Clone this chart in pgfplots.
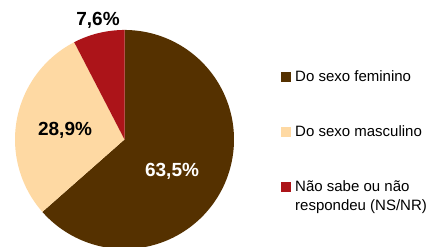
\documentclass[border=0pt]{standalone}
\usepackage{pgfplots}
\usepackage{pgfplotstable}
\pgfplotsset{compat=1.18}
\usepackage{fontspec}
\setmainfont{Liberation Sans}
\definecolor{cfem}{HTML}{553100}
\definecolor{cmasc}{HTML}{FED9A3}
\definecolor{cns}{HTML}{AC1419}

\pgfplotstableread{
share
63.5
28.9
7.6
}\piedata

\begin{document}%
\begin{tikzpicture}
\pgfplotstablegetelem{0}{share}\of\piedata \let\vA\pgfplotsretval
\pgfplotstablegetelem{1}{share}\of\piedata \let\vB\pgfplotsretval
\pgfplotstablegetelem{2}{share}\of\piedata \let\vC\pgfplotsretval
\pgfmathsetmacro\aA{90-3.6*\vA}
\pgfmathsetmacro\aB{\aA-3.6*\vB}
\pgfmathsetmacro\aC{\aB-3.6*\vC}
\useasboundingbox (0,0) rectangle (431bp,247bp);
\begin{axis}[
  at={(0,0)}, anchor=south west,
  x=109.5bp, y=109.5bp,
  xmin=-1.137, xmax=2.799, ymin=-0.982, ymax=1.274,
  hide axis,
  legend image code/.code={\fill[#1] (0bp,0bp) rectangle (10bp,10bp);},
  legend style={draw=none, fill=none, at={(0.652,0.7146)}, anchor=north west,
    inner sep=0pt, row sep=40bp, column sep=4bp,
    font=\fontsize{15bp}{19bp}\selectfont,
    nodes={inner sep=0pt, text height=11bp, text depth=4bp},
    cells={anchor=base west}},
]
\addplot[fill=cfem, draw=none, domain=\aA:90, samples=150, variable=\t]
  ({cos(\t)},{sin(\t)}) -- (0,0) -- cycle;
\addlegendentry{Do sexo feminino}
\addplot[fill=cmasc, draw=none, domain=\aB:\aA, samples=80, variable=\t]
  ({cos(\t)},{sin(\t)}) -- (0,0) -- cycle;
\addlegendentry{Do sexo masculino}
\addplot[fill=cns, draw=none, domain=\aC:\aB, samples=30, variable=\t]
  ({cos(\t)},{sin(\t)}) -- (0,0) -- cycle;
\addlegendentry{\begin{tabular}[t]{@{}l@{}}Não sabe ou não\\respondeu (NS/NR)\end{tabular}}
\node[text=white, font=\bfseries\fontsize{19bp}{19bp}\selectfont] at (axis cs:0.434,-0.288) {63,5\%};
\node[text=black, font=\bfseries\fontsize{19bp}{19bp}\selectfont] at (axis cs:-0.543,0.087) {28,9\%};
\node[text=black, font=\bfseries\fontsize{19bp}{19bp}\selectfont] at (axis cs:-0.242,1.091) {7,6\%};
\end{axis}
\end{tikzpicture}%
\end{document}
